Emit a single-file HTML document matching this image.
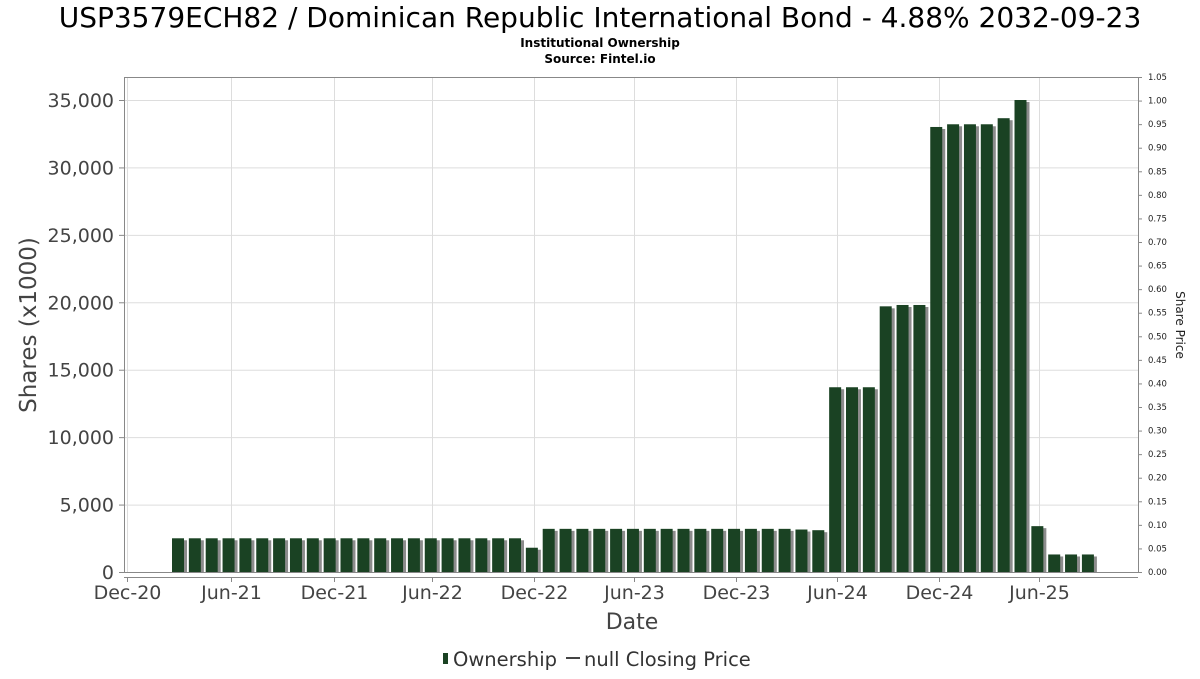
<!DOCTYPE html>
<html><head><meta charset="utf-8"><style>
body{margin:0;background:#fff;font-family:"DejaVu Sans","Liberation Sans",sans-serif;}
</style></head><body>
<svg id="chart" width="1200" height="675" xmlns="http://www.w3.org/2000/svg" style="font-family:'DejaVu Sans','Liberation Sans',sans-serif">
<text x="600" y="27" text-anchor="middle" font-size="28" fill="#000">USP3579ECH82 / Dominican Republic International Bond - 4.88% 2032-09-23</text>
<text x="600" y="47" text-anchor="middle" font-size="12" font-weight="bold">Institutional Ownership</text>
<text x="600" y="63" text-anchor="middle" font-size="12" font-weight="bold">Source: Fintel.io</text>
<g id="grid"></g>
<rect x="124.5" y="77.5" width="1014" height="495" fill="none" stroke="#888"/>
<line x1="124" y1="577.5" x2="1138" y2="577.5" stroke="#888"/>
<g id="bars"></g>
<g id="axes"></g>
<text transform="translate(36,325) rotate(-90)" text-anchor="middle" font-size="23" fill="#444">Shares (x1000)</text>
<text transform="translate(1176,325) rotate(90)" text-anchor="middle" font-size="12" fill="#222">Share Price</text>
<text x="632" y="629" text-anchor="middle" font-size="22" fill="#444">Date</text>
<g>
<rect x="443" y="653" width="5" height="11" fill="#1a4223"/>
<text x="453" y="666" font-size="19.5" fill="#333">Ownership</text>
<line x1="566" y1="658" x2="580" y2="658" stroke="#444" stroke-width="2"/>
<text x="584" y="666" font-size="19.5" fill="#333">null Closing Price</text>
</g>
</svg>
<script>
const values=[2500,2500,2500,2500,2500,2500,2500,2500,2500,2500,2500,2500,2500,2500,2500,2500,2500,2500,2500,2500,2500,1800,
3200,3200,3200,3200,3200,3200,3200,3200,3200,3200,3200,3200,3200,3200,3200,3150,3100,
13700,13700,13700,19700,19800,19800,33000,33200,33200,33200,33650,35000,3400,1300,1300,1300];
const yTicks=[0,5000,10000,15000,20000,25000,30000,35000];
const y2Ticks=[0,0.05,0.1,0.15,0.2,0.25,0.3,0.35,0.4,0.45,0.5,0.55,0.6,0.65,0.7,0.75,0.8,0.85,0.9,0.95,1.0,1.05];
const xLabels=["Dec-20","Jun-21","Dec-21","Jun-22","Dec-22","Jun-23","Dec-23","Jun-24","Dec-24","Jun-25"];
const xLabelIdx=[-3.03,3.15,9.26,15.07,21.13,27.09,33.09,39.09,45.16,51.12];
const NS="http://www.w3.org/2000/svg";
const y=v=>572-v*(472/35000);
const y2=v=>572-v*(495/1.05);
const x=i=>172+i*16.85;
function mk(t,a,p){const e=document.createElementNS(NS,t);for(const k in a)e.setAttribute(k,a[k]);p.appendChild(e);return e;}
const grid=document.getElementById('grid'),bars=document.getElementById('bars'),axes=document.getElementById('axes');
yTicks.forEach(v=>{
 const l=mk('line',{x1:125,x2:1138,y1:y(v)+.5,y2:y(v)+.5,stroke:'#ddd'},grid);
 
 
 mk('line',{x1:119,x2:124,y1:y(v)+.5,y2:y(v)+.5,stroke:'#888'},axes);
 const t=mk('text',{x:114,y:y(v)+7,'text-anchor':'end','font-size':19,fill:'#444'},axes);
 t.textContent=v.toLocaleString('en-US');
 
 
});
y2Ticks.forEach(v=>{
 mk('line',{x1:1138,x2:1142,y1:y2(v)+.5,y2:y2(v)+.5,stroke:'#888'},axes);
 const t=mk('text',{x:1148,y:y2(v)+3,'font-size':8.5,fill:'#222'},axes);
 t.textContent=v.toFixed(2);
 
 
});
xLabels.forEach((s,k)=>{
 const px=Math.round(x(xLabelIdx[k])+6)+.5;
 const g=mk('line',{x1:px,x2:px,y1:78,y2:572,stroke:'#ddd'},grid);
 
 
 mk('line',{x1:px,x2:px,y1:577,y2:582,stroke:'#888'},axes);
 const t=mk('text',{x:px,y:599,'text-anchor':'middle','font-size':19,fill:'#444'},axes);
 t.textContent=s;
 
 
});
values.forEach((v,i)=>{
 const bx=x(i),top=y(v);
 mk('rect',{x:bx+3,y:top+2,width:12,height:572-top-2,fill:'#8c8c8c'},bars);
 const r=mk('rect',{x:bx,y:top,width:12,height:572-top,fill:'#1a4223'},bars);
 
 
});
</script>
</body></html>
